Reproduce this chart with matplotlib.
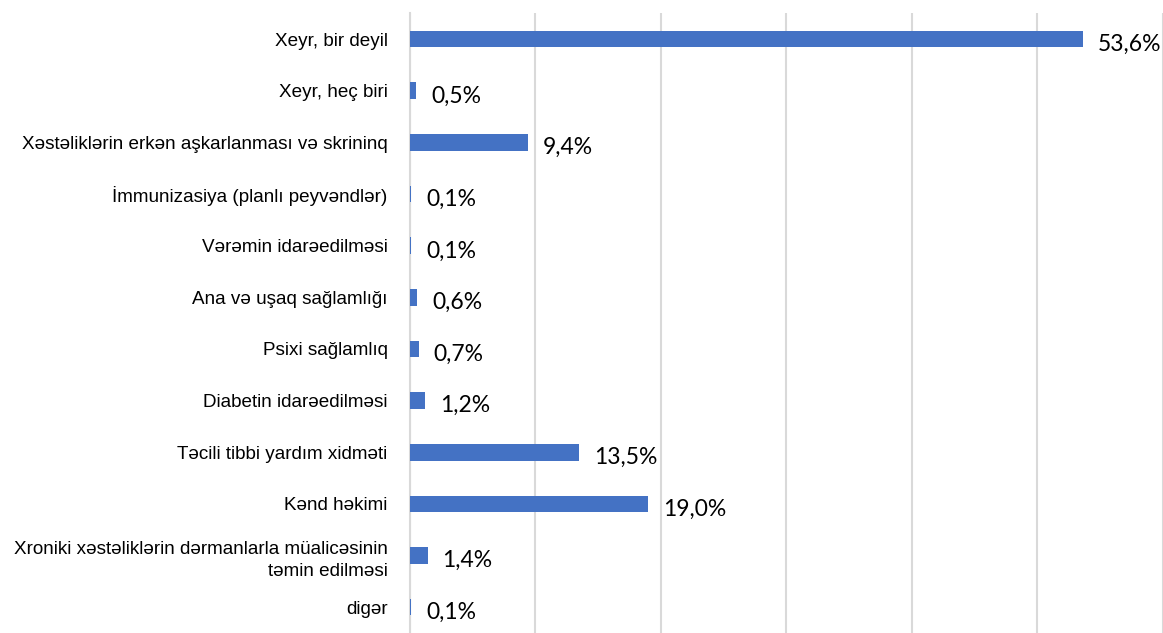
import matplotlib.pyplot as plt
import numpy as np

kateqoriyalar = [
    "Xeyr, bir deyil",
    "Xeyr, heç biri",
    "Xəstəliklərin erkən aşkarlanması və skrininq",
    "İmmunizasiya (planlı peyvəndlər)",
    "Vərəmin idarəedilməsi",
    "Ana və uşaq sağlamlığı",
    "Psixi sağlamlıq",
    "Diabetin idarəedilməsi",
    "Təcili tibbi yardım xidməti",
    "Kənd həkimi",
    "Xroniki xəstəliklərin dərmanlarla müalicəsinin\ntəmin edilməsi",
    "digər",
]
faizler = [53.6, 0.5, 9.4, 0.1, 0.1, 0.6, 0.7, 1.2, 13.5, 19.0, 1.4, 0.1]

fig = plt.figure(figsize=(11.63, 6.33), dpi=100)
ax = fig.add_axes([0.3525, 0.0, 0.6475, 0.979])

y = np.arange(len(kateqoriyalar))
ax.barh(y, faizler, height=0.32, color='#4472C4', zorder=3)

ax.set_xlim(0, 60)
ax.set_ylim(len(kateqoriyalar) - 0.5, -0.5)
ax.set_xticks(np.arange(0, 61, 10))
ax.set_xticklabels([])
ax.tick_params(axis='x', length=0)
ax.tick_params(axis='y', length=0, pad=16)
ax.grid(axis='x', color='#D9D9D9', linewidth=1.5, zorder=0)
for s in ['top', 'right', 'bottom']:
    ax.spines[s].set_visible(False)
ax.spines['left'].set_color('#D9D9D9')
ax.spines['left'].set_linewidth(1.5)

ax.set_yticks(y)
ax.set_yticklabels(kateqoriyalar, fontsize=13.6, family='Liberation Sans',
                   ha='right', linespacing=1.45)

for yi, v in zip(y, faizler):
    ax.text(v + 1.2, yi + 0.1, f"{v:.1f}%".replace('.', ','), va='center',
            ha='left', fontsize=16.5, family='Lato', color='#000000')

fig.savefig('out.png', dpi=100)
